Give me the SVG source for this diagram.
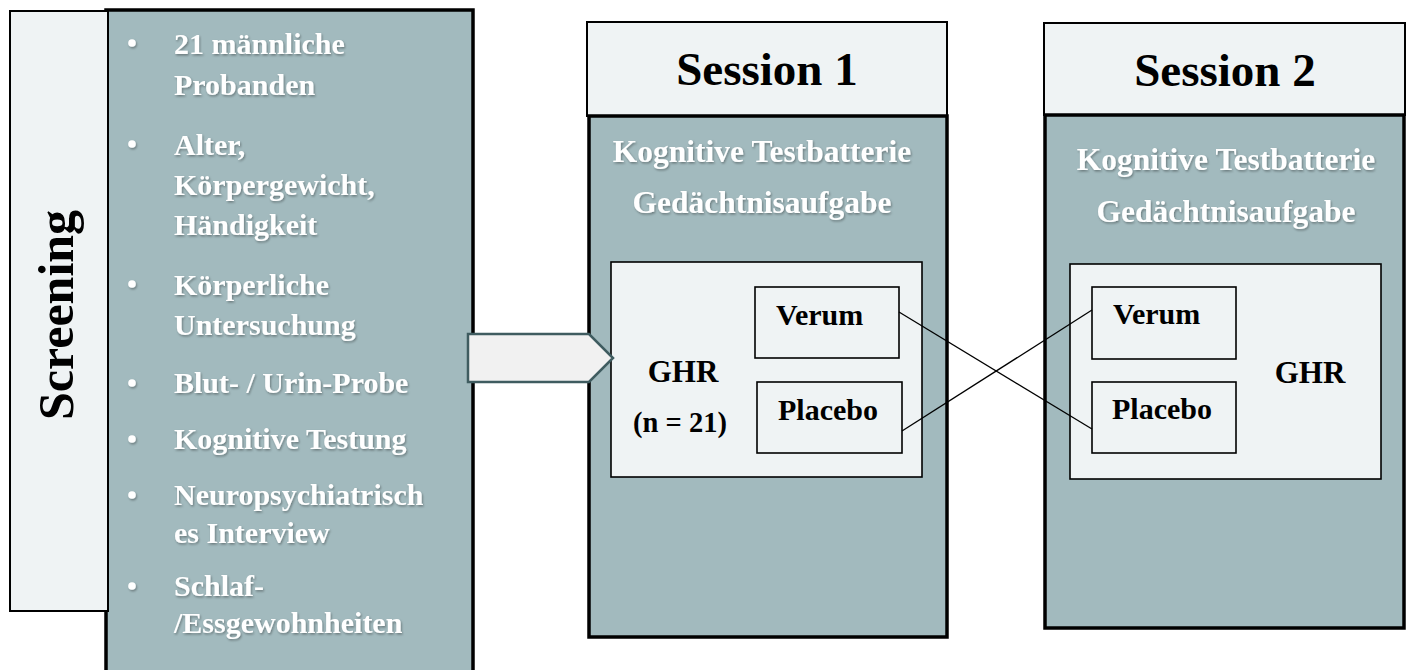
<svg xmlns="http://www.w3.org/2000/svg" width="1413" height="670" viewBox="0 0 1413 670">
<defs>
<filter id="sh" x="-10%" y="-20%" width="120%" height="150%">
<feDropShadow dx="1" dy="1.5" stdDeviation="1" flood-color="#000" flood-opacity="0.35"/>
</filter>
<style>
text{font-family:"Liberation Serif","Times New Roman",serif;font-weight:bold}
.wt{fill:#ffffff}
.bk{fill:#000}
.gray{fill:#a2babe;stroke:#000;stroke-width:3.5}
.light{fill:#eff3f4;stroke:#000;stroke-width:2}
.box{fill:#eff3f4;stroke:#000;stroke-width:1.6}
.conn{stroke:#000;stroke-width:1.3;fill:none}
</style>
</defs>
<rect width="1413" height="670" fill="#fff"/>
<g id="screening-list">
<rect class="gray" x="106" y="10" width="367" height="680"/>
<g filter="url(#sh)">
<g class="wt">
<circle cx="132" cy="43" r="3.8"/>
<circle cx="132" cy="144" r="3.8"/>
<circle cx="132" cy="284" r="3.8"/>
<circle cx="132" cy="383" r="3.8"/>
<circle cx="132" cy="439" r="3.8"/>
<circle cx="132" cy="495" r="3.8"/>
<circle cx="132" cy="586" r="3.8"/>
</g>
<g class="wt" font-size="30">
<text x="174" y="54">21 männliche</text>
<text x="174" y="95">Probanden</text>
<text x="174" y="155">Alter,</text>
<text x="174" y="195">Körpergewicht,</text>
<text x="174" y="235">Händigkeit</text>
<text x="174" y="295">Körperliche</text>
<text x="174" y="335">Untersuchung</text>
<text x="174" y="393">Blut- / Urin-Probe</text>
<text x="174" y="449">Kognitive Testung</text>
<text x="174" y="505">Neuropsychiatrisch</text>
<text x="174" y="543">es Interview</text>
<text x="174" y="596">Schlaf-</text>
<text x="174" y="633">/Essgewohnheiten</text>
</g>
</g>
</g>
<g id="screening">
<rect class="light" x="10" y="11" width="98" height="600"/>
<text class="bk" font-size="50" text-anchor="middle" transform="translate(73,315) rotate(-90)">Screening</text>
</g>
<g id="session1">
<rect class="light" x="587" y="22" width="360" height="94"/>
<text class="bk" x="767" y="85" font-size="47" text-anchor="middle">Session 1</text>
<rect class="gray" x="589" y="116" width="358" height="521"/>
<g class="wt" font-size="31.5" text-anchor="middle" filter="url(#sh)">
<text x="762" y="162">Kognitive Testbatterie</text>
<text x="762" y="213">Gedächtnisaufgabe</text>
</g>
<rect class="box" x="611" y="262" width="311" height="215"/>
<text class="bk" x="683" y="382" font-size="31" text-anchor="middle">GHR</text>
<text class="bk" x="680" y="432" font-size="28.5" text-anchor="middle">(n = 21)</text>
<g id="s1-verum">
<rect class="box" x="755" y="287" width="144" height="71"/>
<text class="bk" x="776" y="325" font-size="30">Verum</text>
</g>
<g id="s1-placebo">
<rect class="box" x="757" y="382" width="145" height="71"/>
<text class="bk" x="778" y="420" font-size="30">Placebo</text>
</g>
</g>
<g id="arrow">
<path d="M468,334 L589,334 L613,358 L589,382 L468,382 Z" fill="#f1f1f1" stroke="#3f5c60" stroke-width="2.5" stroke-linejoin="miter"/>
</g>
<g id="session2">
<rect class="light" x="1044" y="23" width="361" height="92"/>
<text class="bk" x="1225" y="86" font-size="47" text-anchor="middle">Session 2</text>
<rect class="gray" x="1045" y="115" width="359" height="513"/>
<g class="wt" font-size="31.5" text-anchor="middle" filter="url(#sh)">
<text x="1226" y="170">Kognitive Testbatterie</text>
<text x="1226" y="222">Gedächtnisaufgabe</text>
</g>
<rect class="box" x="1070" y="264" width="311" height="215"/>
<text class="bk" x="1310" y="383" font-size="31" text-anchor="middle">GHR</text>
<g id="s2-verum">
<rect class="box" x="1092" y="287" width="144" height="72"/>
<text class="bk" x="1113" y="324" font-size="30">Verum</text>
</g>
<g id="s2-placebo">
<rect class="box" x="1092" y="382" width="144" height="71"/>
<text class="bk" x="1112" y="419" font-size="30">Placebo</text>
</g>
</g>
<g id="connectors">
<line class="conn" x1="899" y1="312" x2="1092" y2="429"/>
<line class="conn" x1="902" y1="431" x2="1092" y2="310"/>
</g>
</svg>
